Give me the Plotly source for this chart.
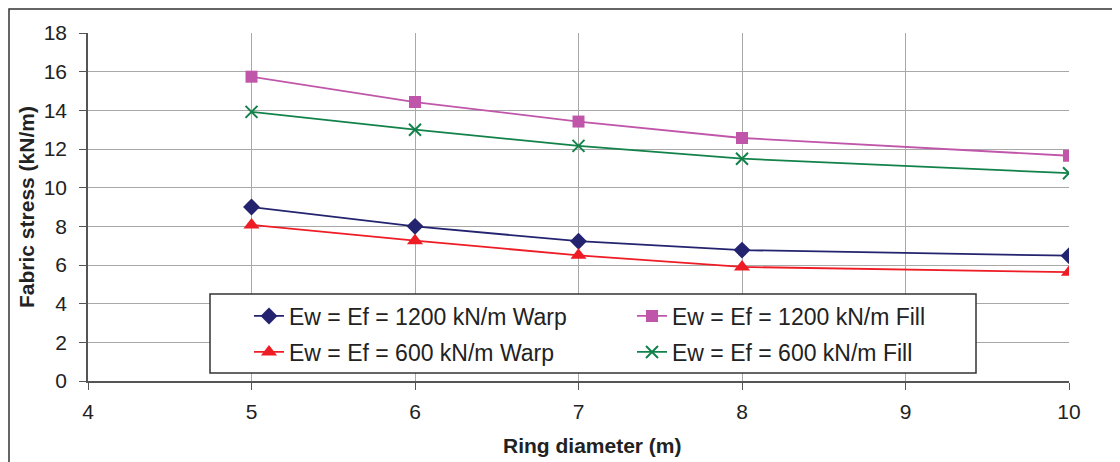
import plotly.graph_objects as go

ring_diameter = [5, 6, 7, 8, 10]
warp_1200 = [9.0, 8.0, 7.23, 6.77, 6.48]
fill_1200 = [15.74, 14.43, 13.42, 12.57, 11.65]
warp_600 = [8.07, 7.26, 6.5, 5.9, 5.63]
fill_600 = [13.92, 13.0, 12.16, 11.5, 10.75]

series_names = [
    "Ew = Ef = 1200 kN/m Warp",
    "Ew = Ef = 1200 kN/m Fill",
    "Ew = Ef = 600 kN/m Warp",
    "Ew = Ef = 600 kN/m Fill",
]
x_ticks = [4, 5, 6, 7, 8, 9, 10]
y_ticks = [0, 2, 4, 6, 8, 10, 12, 14, 16, 18]

FONT = "Liberation Sans, Arial, sans-serif"
TXT = "#222222"

# page has an 8px body margin; screen plot area: left 88, right 1069, top 33, bottom 381
OFF = 8
L, R, T, B = 88, 1069, 33, 381
W, H = 1120 - OFF, 462 - OFF
def px(xs):
    return (xs - L) / (R - L)
def py(ys):
    return (B - ys) / (B - T)

styles = [
    (warp_1200, "#23236F", "diamond", 13, "legend"),
    (fill_1200, "#C056AA", "square", 12, "legend"),
    (warp_600, "#EE1C25", "triangle-up", 14, "legend2"),
    (fill_600, "#12824A", "x-thin", 12, "legend2"),
]

fig = go.Figure()
for name, (vals, color, sym, size, leg) in zip(series_names, styles):
    marker = dict(symbol=sym, size=size, color=color)
    if sym == "x-thin":
        marker["line"] = dict(color=color, width=2)
    fig.add_trace(go.Scatter(
        x=ring_diameter, y=vals, name=name, mode="lines+markers",
        line=dict(color=color, width=1.8), marker=marker, legend=leg,
    ))

leg_common = dict(
    orientation="h", xanchor="left", yanchor="middle",
    bgcolor="rgba(0,0,0,0)", borderwidth=0,
    font=dict(family=FONT, size=23, color=TXT),
    entrywidth=338, entrywidthmode="pixels",
    itemsizing="trace",
)

fig.update_layout(
    width=W, height=H,
    margin=dict(l=L - OFF, r=W - (R - OFF), t=T - OFF, b=H - (B - OFF), autoexpand=False),
    paper_bgcolor="white", plot_bgcolor="white",
    font=dict(family=FONT, color=TXT, size=21),
    showlegend=True,
    legend=dict(x=px(249), y=py(316), **leg_common),
    legend2=dict(x=px(249), y=py(352), **leg_common),
    xaxis=dict(
        range=[4, 10], tickvals=x_ticks, ticktext=[str(v) for v in x_ticks],
        showgrid=True, gridcolor="#A8A8A8", gridwidth=1.3,
        showline=True, linecolor="#555555", linewidth=1.6,
        ticks="outside", ticklen=7, tickcolor="#555555", tickwidth=1.3,
        tickfont=dict(size=21, color=TXT), zeroline=False, automargin=False,
        ticklabelstandoff=4,
    ),
    yaxis=dict(
        range=[0, 18], tickvals=y_ticks, ticktext=[str(v) for v in y_ticks],
        showgrid=True, gridcolor="#A8A8A8", gridwidth=1.3,
        showline=True, linecolor="#555555", linewidth=1.6,
        ticks="outside", ticklen=7, tickcolor="#555555", tickwidth=1.3,
        tickfont=dict(size=21, color=TXT), zeroline=False, automargin=False,
        ticklabelstandoff=8,
    ),
    annotations=[
        dict(text="<b>Ring diameter (m)</b>", xref="paper", yref="paper",
             x=px(592), y=py(446), xanchor="center", yanchor="middle",
             showarrow=False, font=dict(size=21, color=TXT, family=FONT)),
        dict(text="<b>Fabric stress (kN/m)</b>", xref="paper", yref="paper",
             x=px(26), y=py(207), xanchor="center", yanchor="middle", textangle=-90,
             showarrow=False, font=dict(size=21, color=TXT, family=FONT)),
    ],
    shapes=[
        dict(type="rect", xref="paper", yref="paper",
             x0=px(9), y0=-0.4, x1=1.2, y1=py(9),
             line=dict(color="#333333", width=1.5), fillcolor="rgba(0,0,0,0)", layer="below"),
        dict(type="rect", xref="paper", yref="paper",
             x0=px(210), y0=py(373), x1=px(976), y1=py(294),
             line=dict(color="#333333", width=1.5), fillcolor="white", layer="above"),
    ],
)

fig.write_html("out.html")
